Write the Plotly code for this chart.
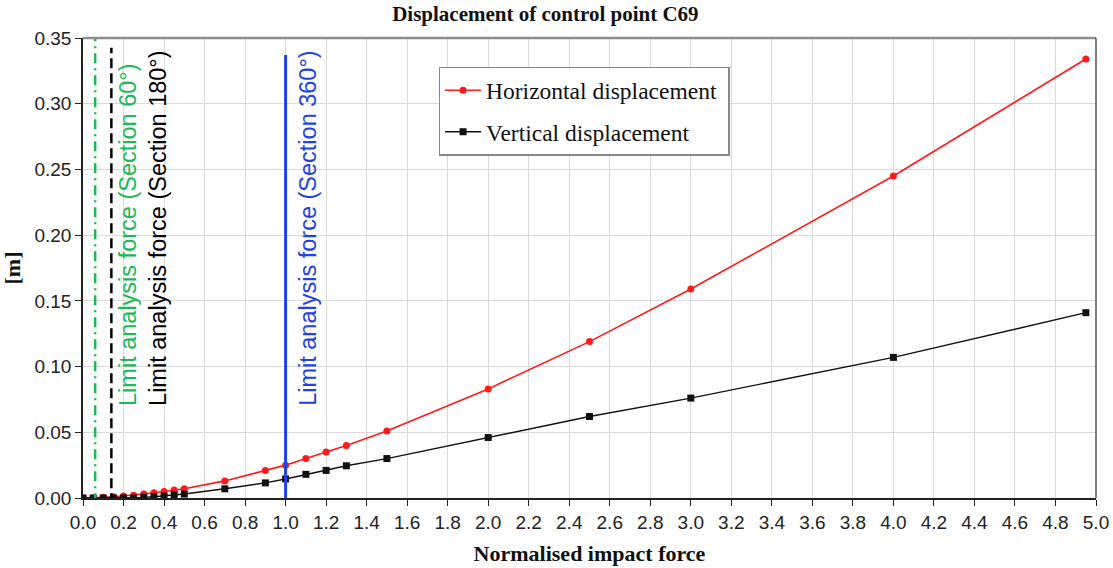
import plotly.graph_objects as go

force = [0.0, 0.05, 0.1, 0.15, 0.2, 0.25, 0.3, 0.35, 0.4, 0.45, 0.5, 0.7, 0.9, 1.0,
         1.1, 1.2, 1.3, 1.5, 2.0, 2.5, 3.0, 4.0, 4.95]
horizontal = [0.0, 0.0, 0.0005, 0.001, 0.0015, 0.002, 0.003, 0.004, 0.005, 0.006, 0.007,
              0.013, 0.021, 0.025, 0.030, 0.035, 0.040, 0.051, 0.083, 0.119, 0.159, 0.245, 0.334]
vertical = [0.0, 0.0, 0.0, 0.0, 0.0, 0.0, 0.0005, 0.001, 0.0015, 0.0025, 0.003,
            0.007, 0.0115, 0.0145, 0.018, 0.021, 0.0245, 0.030, 0.046, 0.062, 0.076, 0.107, 0.141]

limit_forces = [0.06, 0.14, 1.0]
limit_tops = [0.35, 0.3425, 0.337]
limit_labels = ["Limit analysis force (Section 60°)",
                "Limit analysis force (Section 180°)",
                "Limit analysis force (Section 360°)"]
label_x = [0.222, 0.370, 1.11]

x_ticks = [round(0.2 * i, 1) for i in range(26)]
y_ticks = [0.0, 0.05, 0.10, 0.15, 0.20, 0.25, 0.30, 0.35]

SERIF = "Liberation Serif, Times New Roman, serif"
SANS = "Liberation Sans, Arial, sans-serif"
GREEN = "#1db954"
BLUE = "#2142e0"
PAD = "\u00a0"

fig = go.Figure()
fig.add_trace(go.Scatter(x=force, y=horizontal, mode="lines+markers",
                         name="Horizontal displacement" + PAD, legendgroup="h",
                         line=dict(color="#ff1a1a", width=1.6),
                         marker=dict(symbol="circle", size=7, color="#ff1a1a")))
fig.add_trace(go.Scatter(x=force, y=vertical, mode="lines+markers",
                         name="Vertical displacement", legendgroup="v",
                         line=dict(color="#111111", width=1.4),
                         marker=dict(symbol="square", size=7, color="#111111")))

styles = [dict(color=GREEN, width=2.5, dash="10px,5px,2px,5px"),
          dict(color="#000000", width=2.5, dash="10px,5px"),
          dict(color=BLUE, width=3, dash="solid")]
colors = [GREEN, "#000000", BLUE]
for xv, top, st in zip(limit_forces, limit_tops, styles):
    fig.add_shape(type="line", xref="x", yref="y", x0=xv, x1=xv, y0=-0.004, y1=top,
                  line=st, layer="above")

for lx, txt, c in zip(label_x, limit_labels, colors):
    fig.add_annotation(x=lx, y=0.0685, xref="x", yref="y", text=txt, showarrow=False,
                       textangle=-90, xanchor="center", yanchor="bottom",
                       font=dict(family=SANS, size=23.5, color=c))

# top and right frame (grey)
fig.add_shape(type="line", xref="paper", yref="paper", x0=0, x1=1, y0=1, y1=1,
              line=dict(color="#8c8c8c", width=2.5))
fig.add_shape(type="line", xref="paper", yref="paper", x0=1, x1=1, y0=0, y1=1,
              line=dict(color="#555555", width=1.5))

fig.update_layout(
    width=1113, height=568,
    margin=dict(l=83, r=17, t=38, b=70, autoexpand=False),
    paper_bgcolor="white", plot_bgcolor="white",
    title=dict(text="<b>Displacement of control point C69</b>", x=0.49, xref="container",
               xanchor="center", y=1 - 14 / 568, yref="container", yanchor="middle",
               font=dict(family=SERIF, size=21, color="#111111")),
    legend=dict(x=0.351, y=0.937, xanchor="left", yanchor="top",
                bordercolor="#888888", borderwidth=1.5, bgcolor="white",
                font=dict(family=SERIF, size=23.5, color="#111111"),
                itemwidth=36,
                traceorder="grouped", tracegroupgap=8),
    showlegend=True,
)
fig.update_xaxes(range=[0, 5.0], tickvals=x_ticks, ticktext=[f"{v:.1f}" for v in x_ticks],
                 automargin=False,
                 showgrid=True, gridcolor="#dadada", gridwidth=1.2,
                 showline=True, linecolor="#222222", linewidth=1.5,
                 ticks="outside", ticklen=6, tickcolor="#222222", zeroline=False,
                 tickfont=dict(family=SANS, size=19, color="#222222"),
                 title=dict(text="<b>Normalised impact force</b>", standoff=14,
                            font=dict(family=SERIF, size=22, color="#111111")))
fig.update_yaxes(range=[0, 0.35], tickvals=y_ticks, ticktext=[f"{v:.2f}" for v in y_ticks],
                 automargin=False,
                 showgrid=True, gridcolor="#dadada", gridwidth=1.2,
                 showline=True, linecolor="#222222", linewidth=1.5,
                 ticks="outside", ticklen=6, tickcolor="#222222", zeroline=False,
                 tickfont=dict(family=SANS, size=19, color="#222222"),
                 title=dict(text="<b>[m]</b>", standoff=8,
                            font=dict(family=SERIF, size=22, color="#111111")))

fig.write_html("out.html")
